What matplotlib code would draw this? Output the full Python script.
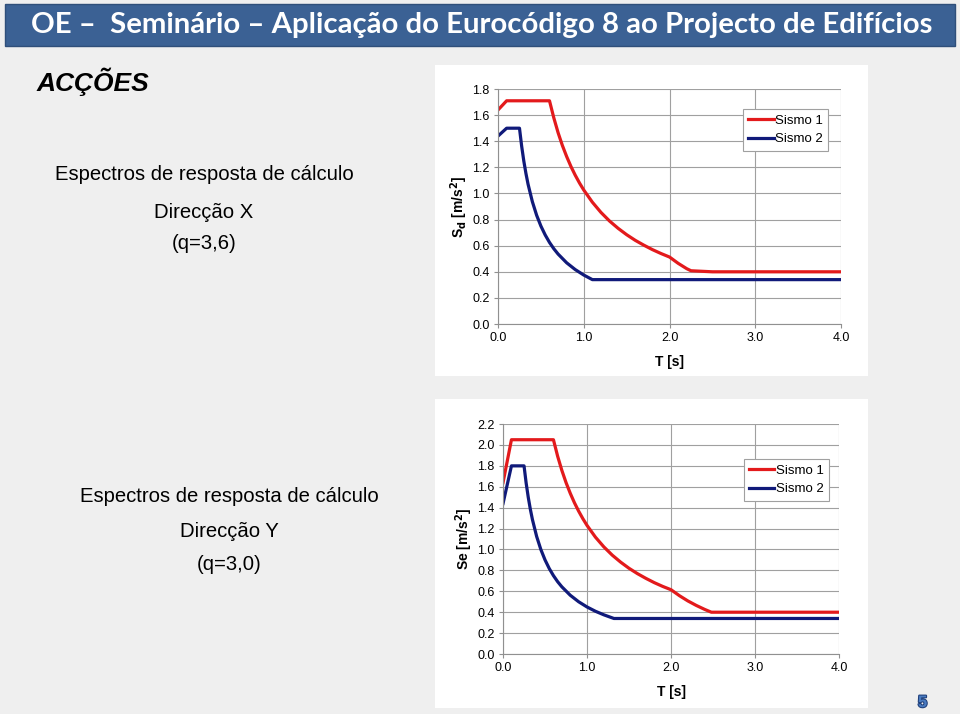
import matplotlib.pyplot as plt
from matplotlib.patches import Rectangle
import matplotlib.patheffects as pe

plt.rcParams['font.family'] = ['Liberation Sans', 'DejaVu Sans']

# spectrum Direccao X (q=3,6)
tx_s1 = [0.0, 0.1, 0.6, 0.65, 0.7, 0.75, 0.8, 0.85, 0.9, 0.95, 1.0, 1.1, 1.2, 1.3, 1.4, 1.5,
         1.6, 1.7, 1.8, 1.9, 2.0, 2.1, 2.2, 2.25, 2.5, 4.0]
sx_s1 = [1.64, 1.71, 1.71, 1.58, 1.466, 1.368, 1.283, 1.207, 1.14, 1.08, 1.026, 0.933, 0.855,
         0.789, 0.733, 0.684, 0.641, 0.604, 0.57, 0.54, 0.513, 0.465, 0.424, 0.408, 0.40, 0.40]
tx_s2 = [0.0, 0.1, 0.25, 0.275, 0.3, 0.325, 0.35, 0.4, 0.45, 0.5, 0.55, 0.6, 0.65, 0.7, 0.8,
         0.9, 1.0, 1.1, 4.0]
sx_s2 = [1.44, 1.50, 1.50, 1.364, 1.25, 1.154, 1.071, 0.9375, 0.833, 0.75, 0.682, 0.625, 0.577,
         0.536, 0.469, 0.417, 0.375, 0.34, 0.34]

# spectrum Direccao Y (q=3,0)
ty_s1 = [0.0, 0.1, 0.6, 0.65, 0.7, 0.75, 0.8, 0.85, 0.9, 0.95, 1.0, 1.1, 1.2, 1.3, 1.4, 1.5,
         1.6, 1.7, 1.8, 1.9, 2.0, 2.1, 2.2, 2.3, 2.4, 2.48, 4.0]
sy_s1 = [1.64, 2.05, 2.05, 1.892, 1.757, 1.64, 1.538, 1.447, 1.367, 1.295, 1.23, 1.118, 1.025,
         0.946, 0.879, 0.82, 0.769, 0.724, 0.683, 0.647, 0.615, 0.558, 0.508, 0.465, 0.427, 0.40, 0.40]
ty_s2 = [0.0, 0.1, 0.25, 0.275, 0.3, 0.325, 0.35, 0.4, 0.45, 0.5, 0.55, 0.6, 0.65, 0.7, 0.8,
         0.9, 1.0, 1.1, 1.2, 1.32, 4.0]
sy_s2 = [1.44, 1.80, 1.80, 1.636, 1.50, 1.385, 1.286, 1.125, 1.0, 0.90, 0.818, 0.75, 0.692,
         0.643, 0.5625, 0.50, 0.45, 0.409, 0.375, 0.34, 0.34]

series_names = ['Sismo 1', 'Sismo 2']
x_ticks = [0.0, 1.0, 2.0, 3.0, 4.0]

red = '#E31A1C'
navy = '#101A7A'
bg = '#EFEFEF'

fig = plt.figure(figsize=(9.6, 7.14), dpi=100, facecolor=bg)

# title bar
fig.patches.append(Rectangle((0.0052, 0.9356), 0.9896, 0.0588, transform=fig.transFigure,
                             facecolor='#3B6194', edgecolor='#2F4F7A', lw=1, zorder=-1))
fig.text(0.502, 0.965, 'OE \u2013  Semin\u00e1rio \u2013 Aplica\u00e7\u00e3o do Euroc\u00f3digo 8 ao Projecto de Edif\u00edcios',
         ha='center', va='center', color='white', fontsize=21.2, fontweight='bold',
         family=['Lato', 'DejaVu Sans'])

fig.text(0.038, 0.885, 'AC\u00c7\u00d5ES', fontsize=19, fontweight='bold', style='italic',
         va='center', ha='left')

# side texts
fig.text(0.2125, 0.755, 'Espectros de resposta de c\u00e1lculo', ha='center', va='center', fontsize=14.6)
fig.text(0.2125, 0.703, 'Direc\u00e7\u00e3o X', ha='center', va='center', fontsize=14.6)
fig.text(0.2125, 0.659, '(q=3,6)', ha='center', va='center', fontsize=14.6)

fig.text(0.2385, 0.304, 'Espectros de resposta de c\u00e1lculo', ha='center', va='center', fontsize=14.6)
fig.text(0.2385, 0.255, 'Direc\u00e7\u00e3o Y', ha='center', va='center', fontsize=14.6)
fig.text(0.2385, 0.209, '(q=3,0)', ha='center', va='center', fontsize=14.6)

# white panels behind charts
for b in [(0.4531, 0.4734, 0.451, 0.4356), (0.4531, 0.0084, 0.451, 0.4328)]:
    fig.patches.append(Rectangle(b[:2], b[2], b[3], transform=fig.transFigure,
                                 facecolor='white', edgecolor='none', zorder=-1))


def spectrum(rect, t1, s1, t2, s2, ymax, ylabel, leg_anchor):
    ax = fig.add_axes(rect)
    ax.patch.set_alpha(0)
    ax.plot(t1, s1, color=red, lw=2.3, label=series_names[0])
    ax.plot(t2, s2, color=navy, lw=2.3, label=series_names[1])
    ax.set_xlim(0, 4)
    ax.set_ylim(0, ymax)
    ax.set_xticks(x_ticks)
    ax.set_xticklabels(['%.1f' % v for v in x_ticks])
    yt = [round(0.2 * i, 1) for i in range(int(round(ymax / 0.2)) + 1)]
    ax.set_yticks(yt)
    ax.set_yticklabels(['%.1f' % v for v in yt])
    ax.grid(True, color='#A0A0A0', lw=0.8)
    ax.set_axisbelow(True)
    for s in ['top', 'right']:
        ax.spines[s].set_visible(False)
    for s in ['left', 'bottom']:
        ax.spines[s].set_color('#909090')
    ax.tick_params(labelsize=9, length=3, color='#909090', pad=3)
    ax.set_xlabel('T [s]', fontsize=10, fontweight='bold', labelpad=8)
    ax.set_ylabel(ylabel, fontsize=10, fontweight='bold', labelpad=2)
    leg = ax.legend(loc='upper right', bbox_to_anchor=leg_anchor, fontsize=9.5, fancybox=False,
                    edgecolor='#A0A0A0', framealpha=1, handlelength=1.9, handletextpad=0.1,
                    borderaxespad=0, borderpad=0.4, labelspacing=0.5)
    leg.get_frame().set_linewidth(0.8)
    return ax


spectrum([0.5188, 0.5462, 0.3573, 0.3291], tx_s1, sx_s1, tx_s2, sx_s2, 1.8,
         r'S$_\mathbf{d}$ [m/s$^\mathbf{2}$]', (0.962, 0.915))
spectrum([0.524, 0.084, 0.35, 0.3221], ty_s1, sy_s1, ty_s2, sy_s2, 2.2,
         r'Se [m/s$^\mathbf{2}$]', (0.97, 0.848))

# page number
fig.text(0.961, 0.016, '5', ha='center', va='center', fontsize=12, fontweight='bold',
         color='#4A7BC0', path_effects=[pe.withStroke(linewidth=1.5, foreground='#1F3F7A')])

fig.savefig('out.png', dpi=100, facecolor=bg)
